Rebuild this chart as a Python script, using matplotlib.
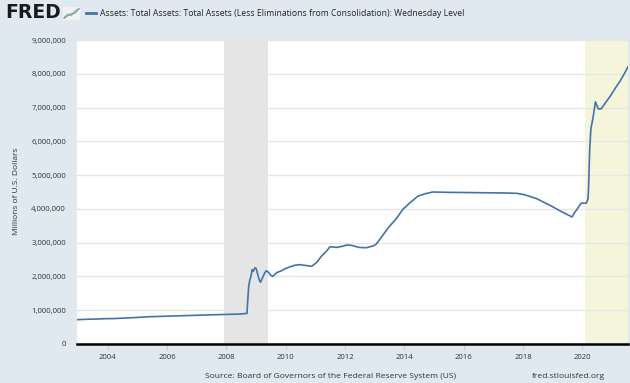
import numpy as np
import pandas as pd
import matplotlib.pyplot as plt
import matplotlib.dates as mdates
from matplotlib.ticker import FuncFormatter

# Fed balance sheet, Wednesday level (millions of dollars)
dates = [
    "2002-12-18", "2003-03-05", "2003-06-04", "2003-09-03", "2003-12-03",
    "2004-03-03", "2004-06-02", "2004-09-01", "2004-12-01",
    "2005-03-02", "2005-06-01", "2005-09-07", "2005-12-07",
    "2006-03-01", "2006-06-07", "2006-09-06", "2006-12-06",
    "2007-03-07", "2007-06-06", "2007-09-05", "2007-12-05",
    "2008-03-05", "2008-06-04", "2008-09-10", "2008-09-17", "2008-09-24",
    "2008-10-01", "2008-10-15", "2008-10-29", "2008-11-12", "2008-11-26",
    "2008-12-17", "2008-12-31", "2009-01-21", "2009-02-11", "2009-02-25",
    "2009-03-18", "2009-04-15", "2009-05-06", "2009-06-03", "2009-06-24",
    "2009-07-22", "2009-08-19", "2009-09-16", "2009-10-21", "2009-11-18",
    "2009-12-16", "2010-02-17", "2010-04-21", "2010-06-16", "2010-08-18",
    "2010-10-20", "2010-11-17", "2011-01-19", "2011-03-16", "2011-05-18",
    "2011-06-29", "2011-09-21", "2011-12-14", "2012-01-18", "2012-03-21",
    "2012-06-20", "2012-09-19", "2012-12-19", "2013-01-16", "2013-03-20",
    "2013-06-19", "2013-09-18", "2013-12-18", "2014-03-19", "2014-06-18",
    "2014-09-17", "2014-12-17", "2015-06-17", "2015-12-16", "2016-06-15",
    "2016-12-14", "2017-06-14", "2017-10-18", "2018-01-17", "2018-06-20",
    "2018-12-19", "2019-04-17", "2019-08-28", "2019-09-18", "2019-10-16",
    "2019-12-18", "2020-02-19", "2020-03-11", "2020-03-18", "2020-03-25",
    "2020-04-01", "2020-04-15", "2020-05-13", "2020-06-10", "2020-07-15",
    "2020-08-19", "2020-10-14", "2020-12-16", "2021-02-17", "2021-04-14",
    "2021-06-16", "2021-07-14",
]
assets = [
    719542, 728000, 735000, 740000, 750000,
    752000, 762000, 772000, 783000,
    795000, 808000, 815000, 822000,
    828000, 835000, 842000, 848000,
    856000, 862000, 868000, 875000,
    880000, 885000, 905000, 1200000, 1450000,
    1700000, 1900000, 2000000, 2200000, 2150000,
    2256000, 2240000, 2060000, 1880000, 1830000,
    1950000, 2100000, 2170000, 2120000, 2050000,
    2000000, 2060000, 2120000, 2150000, 2180000,
    2220000, 2280000, 2330000, 2350000, 2330000,
    2310000, 2300000, 2420000, 2600000, 2750000,
    2880000, 2860000, 2900000, 2930000, 2920000,
    2860000, 2850000, 2910000, 2950000, 3150000,
    3450000, 3700000, 4000000, 4200000, 4380000,
    4450000, 4500000, 4490000, 4485000, 4480000,
    4475000, 4470000, 4460000, 4420000, 4300000,
    4080000, 3920000, 3760000, 3860000, 3950000,
    4170000, 4170000, 4300000, 4670000, 5250000,
    5800000, 6370000, 6720000, 7170000, 6960000,
    6960000, 7150000, 7360000, 7600000, 7800000,
    8070000, 8200000,
]

ticks_years = [2004, 2006, 2008, 2010, 2012, 2014, 2016, 2018, 2020]

bg = "#e1e9f0"
line_col = "#4572a7"
txt = "#333333"

df = pd.DataFrame({"date": pd.to_datetime(dates), "assets": assets})

fig = plt.figure(figsize=(6.3, 3.83), dpi=100, facecolor=bg)
ax = fig.add_axes([77 / 630, 1 - 344 / 383, 551 / 630, 304 / 383])
ax.set_facecolor("white")

x0 = pd.Timestamp("2002-12-18")
x1 = pd.Timestamp("2021-07-16")

# shaded periods
ax.axvspan(pd.Timestamp("2007-12-01"), pd.Timestamp("2009-06-01"), color="#e5e5e5", lw=0, zorder=0)
ax.axvspan(pd.Timestamp("2020-02-01"), x1, color="#f5f5dc", lw=0, zorder=0)

ax.plot(df["date"], df["assets"], color=line_col, lw=1.2, zorder=3)

ax.set_xlim(x0, x1)
ax.set_ylim(0, 9000000)
ax.set_yticks(np.arange(0, 9000001, 1000000))
ax.yaxis.set_major_formatter(FuncFormatter(lambda v, p: f"{int(v):,}"))
ax.set_xticks([pd.Timestamp(f"{y}-01-01") for y in ticks_years])
ax.xaxis.set_major_formatter(mdates.DateFormatter("%Y"))

ax.grid(axis="y", color="#e6e6e6", lw=1, zorder=1)
ax.set_axisbelow(True)
for s in ["top", "right", "left"]:
    ax.spines[s].set_visible(False)
ax.spines["bottom"].set_color("black")
ax.spines["bottom"].set_linewidth(1.8)
ax.spines["bottom"].set_zorder(4)

ax.tick_params(axis="y", length=0, pad=8, labelsize=5.6, labelcolor=txt)
ax.tick_params(axis="x", length=4, color="#cccccc", pad=3, labelsize=5.6, labelcolor=txt)
for lab in ax.get_xticklabels() + ax.get_yticklabels():
    lab.set_fontfamily("Open Sans")

fig.text(17 / 630, 1 - 191 / 383, "Millions of U.S. Dollars", rotation=90,
         fontsize=6, color=txt, family="Open Sans", va="center", ha="center")

# header: logo, small chart icon, legend
fig.text(5 / 630, 1 - 13 / 383, "FRED", fontsize=13.5, fontweight="heavy",
         color="#1a1a1a", family="DejaVu Sans", va="center", ha="left")
icon = fig.add_axes([63 / 630, 1 - 20 / 383, 17 / 630, 13 / 383])
icon.set_facecolor("#f2f2f2")
icon.plot([0, 1, 2, 3, 4], [0.5, 1.5, 1.0, 2.5, 3.0], color="#7fbf7f", lw=0.8)
icon.plot([0, 1, 2, 3, 4], [0.2, 1.0, 1.6, 1.8, 3.2], color="#6b8fc4", lw=0.8)
icon.set_xlim(-0.3, 4.3)
icon.set_ylim(-0.3, 3.6)
icon.set_xticks([])
icon.set_yticks([])
for s in icon.spines.values():
    s.set_visible(False)

fig.add_artist(plt.Line2D([86 / 630, 96 / 630], [1 - 13 / 383] * 2,
                          color=line_col, lw=2))
fig.text(100 / 630, 1 - 13 / 383,
         "Assets: Total Assets: Total Assets (Less Eliminations from Consolidation): Wednesday Level",
         fontsize=6.2, color="#222222", family="Open Sans", va="center", ha="left")

# footer
fig.text(205 / 630, 1 - 377 / 383, "Source: Board of Governors of the Federal Reserve System (US)",
         fontsize=6.1, color=txt, family="Open Sans", va="center", ha="left")
fig.text(605 / 630, 1 - 377 / 383, "fred.stlouisfed.org",
         fontsize=6.1, color=txt, family="Open Sans", va="center", ha="right")

fig.savefig("out.png", dpi=100, facecolor=bg)
